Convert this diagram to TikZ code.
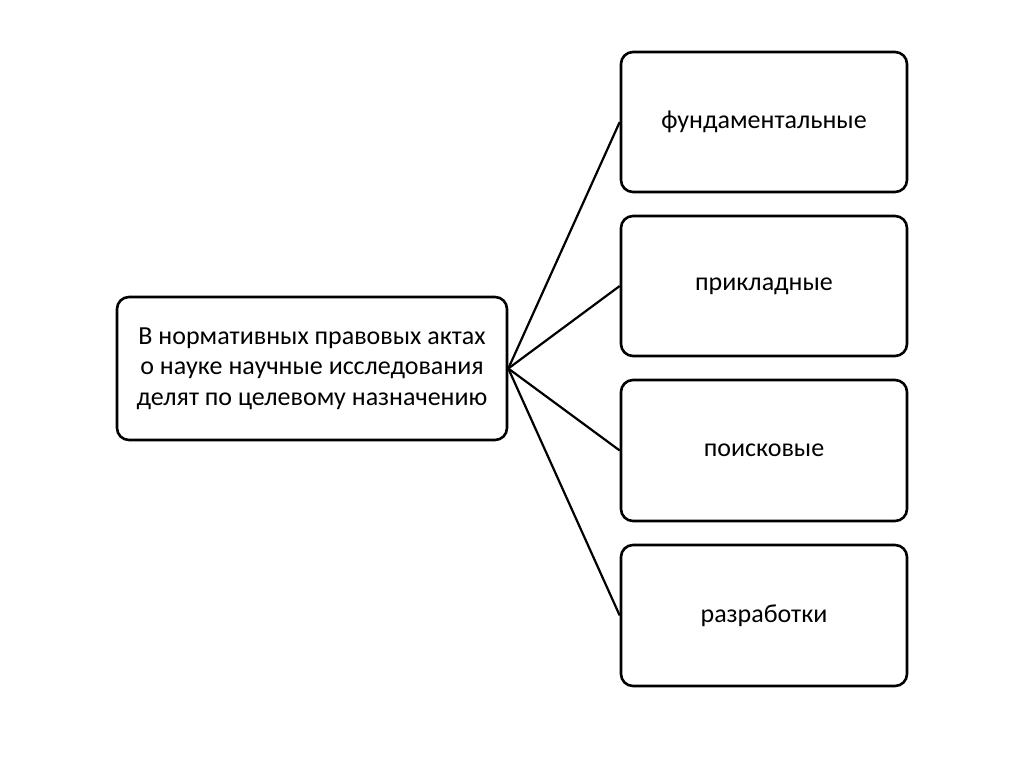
\documentclass[tikz,border=0pt]{standalone}
\usepackage{fontspec}
\setmainfont{Carlito}
\begin{document}
\begin{tikzpicture}[x=1pt,y=-1pt,
  box/.style={draw=black, line width=2.6pt, rounded corners=12pt, align=center, inner sep=0pt},
  conn/.style={draw=black, line width=2.2pt},
  lbl/.style={font=\fontsize{26}{30.5}\selectfont}]
\useasboundingbox (0,0) rectangle (1024,767);
\node[box, lbl, minimum width=390pt, minimum height=143pt] (src) at (312,368.5)
  {В нормативных правовых актах\\о науке научные исследования\\делят по целевому назначению};
\node[box, lbl, minimum width=286pt, minimum height=140pt] (a) at (764,122) {фундаментальные};
\node[box, lbl, minimum width=286pt, minimum height=140pt] (b) at (764,286) {прикладные};
\node[box, lbl, minimum width=286pt, minimum height=141pt] (c) at (764,450.5) {поисковые};
\node[box, lbl, minimum width=286pt, minimum height=141pt] (d) at (764,615.5) {разработки};
\foreach \t in {a,b,c,d} \draw[conn] (src.east) -- (\t.west);
\end{tikzpicture}
\end{document}
